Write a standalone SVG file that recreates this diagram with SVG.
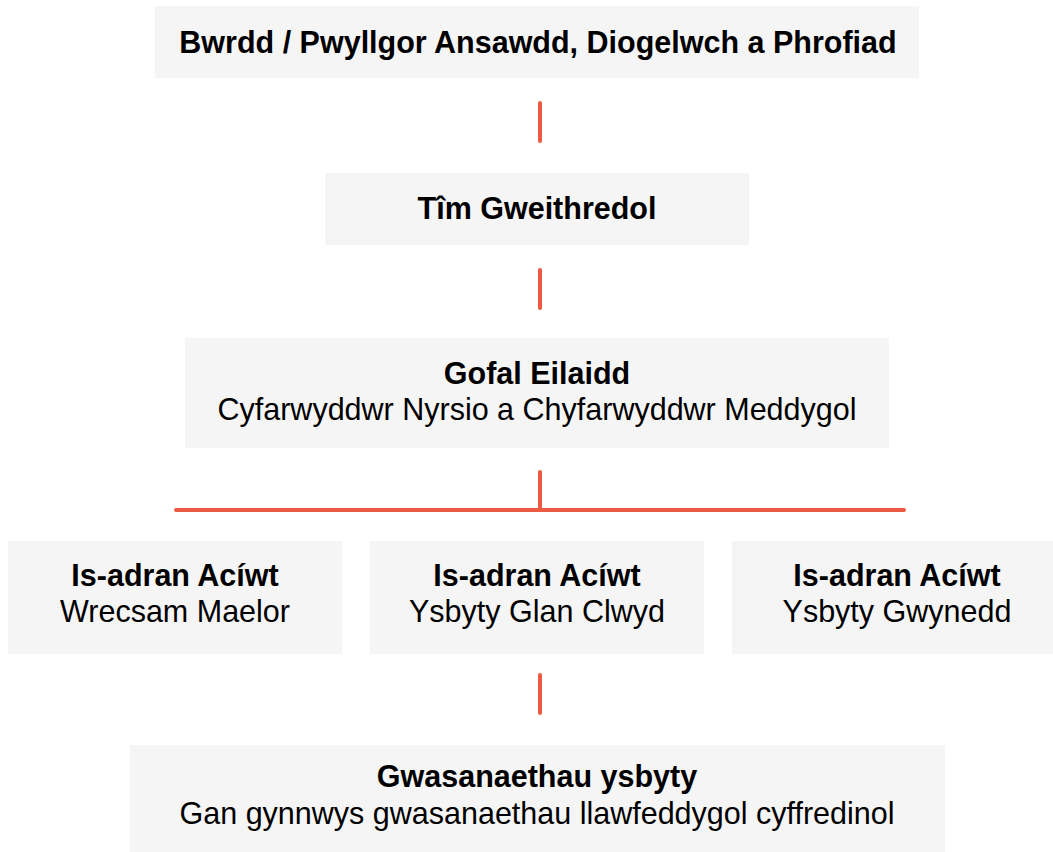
<svg xmlns="http://www.w3.org/2000/svg" width="1053" height="852" viewBox="0 0 1053 852">
<style>
.box{fill:#f5f5f5}
.t{font-family:"Liberation Sans",Arial,sans-serif;font-size:30.5px;fill:#000;text-anchor:middle}
.b{font-weight:bold}
.c{stroke:#eb5a42;stroke-width:4;stroke-linecap:round;fill:none}
</style>
<rect width="1053" height="852" fill="#fff"/>
<g id="connectors">
<line class="c" x1="540" y1="103" x2="540" y2="141"/>
<line class="c" x1="540" y1="270" x2="540" y2="308"/>
<line class="c" x1="540" y1="472" x2="540" y2="510"/>
<line class="c" x1="176" y1="510" x2="904" y2="510"/>
<line class="c" x1="540" y1="675" x2="540" y2="713"/>
</g>
<g id="board">
<rect class="box" x="155" y="6" width="764" height="72"/>
<text class="t b" x="538" y="53">Bwrdd / Pwyllgor Ansawdd, Diogelwch a Phrofiad</text>
</g>
<g id="exec">
<rect class="box" x="325" y="173" width="424" height="72"/>
<text class="t b" x="537" y="219">Tîm Gweithredol</text>
</g>
<g id="secondary">
<rect class="box" x="185" y="338" width="704" height="110"/>
<text class="t b" x="537" y="384">Gofal Eilaidd</text>
<text class="t" x="537" y="420">Cyfarwyddwr Nyrsio a Chyfarwyddwr Meddygol</text>
</g>
<g id="acute1">
<rect class="box" x="8" y="541" width="334" height="113"/>
<text class="t b" x="175" y="586">Is-adran Acíwt</text>
<text class="t" x="175" y="622">Wrecsam Maelor</text>
</g>
<g id="acute2">
<rect class="box" x="370" y="541" width="334" height="113"/>
<text class="t b" x="537" y="586">Is-adran Acíwt</text>
<text class="t" x="537" y="622">Ysbyty Glan Clwyd</text>
</g>
<g id="acute3">
<rect class="box" x="732" y="541" width="334" height="113"/>
<text class="t b" x="897" y="586">Is-adran Acíwt</text>
<text class="t" x="897" y="622">Ysbyty Gwynedd</text>
</g>
<g id="hospital">
<rect class="box" x="130" y="745" width="815" height="107"/>
<text class="t b" x="537" y="787">Gwasanaethau ysbyty</text>
<text class="t" x="537" y="824">Gan gynnwys gwasanaethau llawfeddygol cyffredinol</text>
</g>
</svg>
